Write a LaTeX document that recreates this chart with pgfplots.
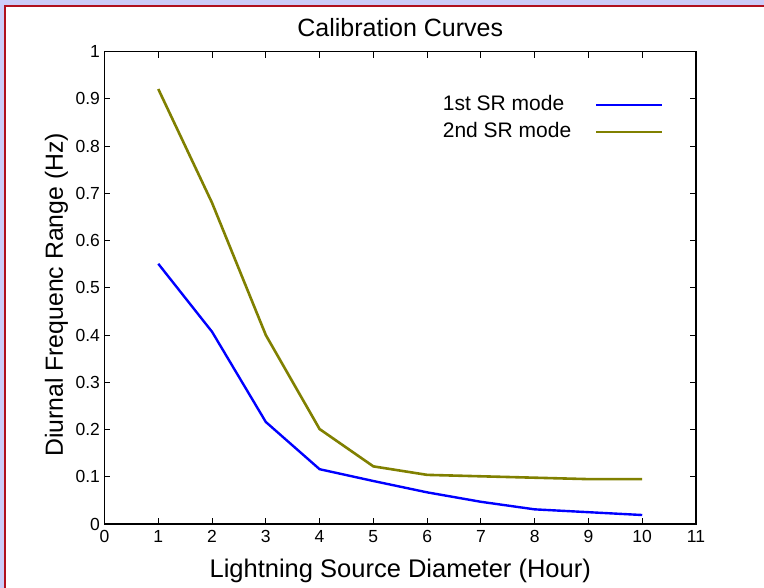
\documentclass[border=0pt]{standalone}
\usepackage{pgfplots}
\pgfplotsset{compat=1.18}
\usepackage{fontspec}
\setmainfont{Liberation Sans}
\definecolor{lav}{RGB}{204,204,248}
\definecolor{frame}{RGB}{176,16,30}
\definecolor{olive}{RGB}{128,128,0}
\definecolor{myblue}{RGB}{0,0,255}
\begin{document}
\begin{tikzpicture}[x=1pt,y=1pt]
\fill[lav] (0,0) rectangle (764,588);
\fill[white] (5,0) rectangle (764,582);
\draw[frame,line width=1.6pt] (5,0) -- (5,582) -- (764,582);
\begin{axis}[
  at={(104.5pt,64pt)}, anchor=south west,
  scale only axis, width=591.5pt, height=472.3pt,
  xmin=0, xmax=11, ymin=0, ymax=1,
  xtick={0,1,...,11},
  ytick={0,0.1,0.2,0.3,0.4,0.5,0.6,0.7,0.8,0.9,1},
  yticklabels={0,0.1,0.2,0.3,0.4,0.5,0.6,0.7,0.8,0.9,1},
  tick align=inside, major tick length=6pt,
  tick style={black, line width=1pt},
  axis line style={line width=1.3pt},
  /pgf/number format/assume math mode=true,
  tick label style={font=\fontsize{17.5}{20}\selectfont},
  xticklabel style={yshift=-3pt},
  yticklabel style={xshift=-1pt},
  title={Calibration Curves},
  title style={font=\fontsize{25}{30}\selectfont, at={(0.5,1)}, anchor=base, yshift=9pt},
  xlabel={Lightning Source Diameter (Hour)},
  xlabel style={font=\fontsize{25.5}{30}\selectfont, at={(0.5,0)}, anchor=base, yshift=-54pt},
  ylabel={Diurnal Frequenc Range (Hz)},
  every axis y label/.style={at={(rel axis cs:-0.0702,0.485)}, rotate=90, anchor=base},
  ylabel style={font=\fontsize{24.8}{30}\selectfont},
  legend plot pos=right,
  legend cell align=left,
  legend image code/.code={\path[draw=none] (0pt,0pt) -- (25pt,0pt); \draw[#1] (25pt,0pt) -- (91pt,0pt);},
  legend style={draw=none, fill=none, inner sep=0pt, outer sep=0pt,
    at={(rel axis cs:0.572,0.907)}, anchor=north west,
    font=\fontsize{21}{25}\selectfont,
    nodes={inner sep=0pt, text height=15pt, text depth=4pt},
    row sep=8pt},
]
\addplot[myblue, line width=2.4pt] coordinates {
(1,0.551) (2,0.407) (3,0.216) (4,0.116) (5,0.091) (6,0.067) (7,0.047) (8,0.031) (9,0.025) (10,0.019)};
\addlegendentry{1st SR mode}
\addplot[olive, line width=2.6pt] coordinates {
(1,0.921) (2,0.680) (3,0.400) (4,0.201) (5,0.122) (6,0.104) (7,0.101) (8,0.098) (9,0.095) (10,0.095)};
\addlegendentry{2nd SR mode}
\end{axis}
\pgfresetboundingbox
\useasboundingbox (0,0) rectangle (764,588);
\end{tikzpicture}
\end{document}
